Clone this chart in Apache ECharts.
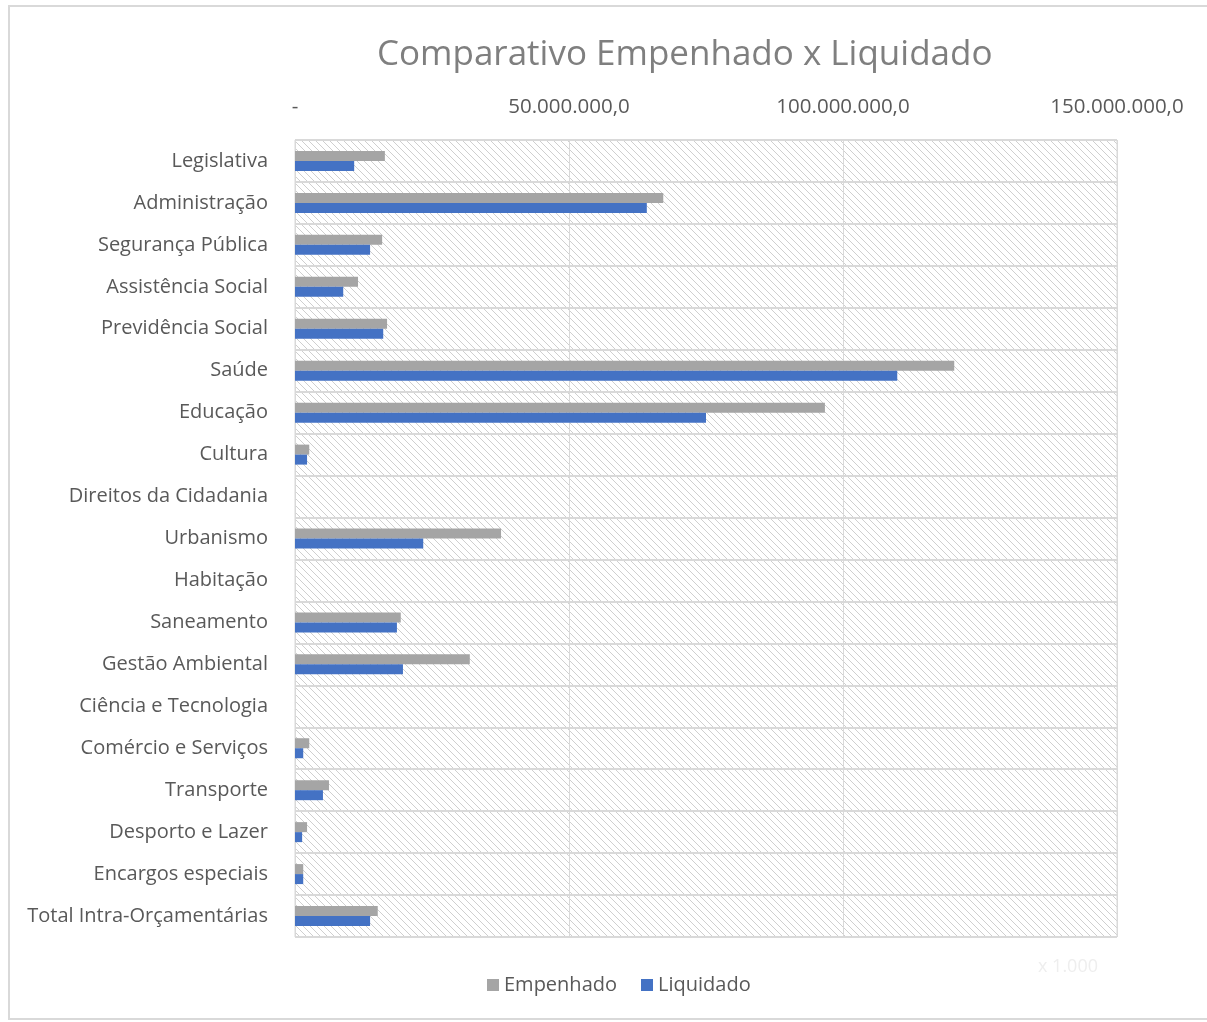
<!DOCTYPE html>
<html>
<head>
<meta charset="utf-8">
<script src="https://cdn.jsdelivr.net/npm/echarts@6/dist/echarts.min.js"></script>
<style>
  html, body { margin: 0; padding: 0; background: #fff; }
  #main { width: 1207px; height: 1022px; }
</style>
</head>
<body>
<div id="main"></div>
<script>
const categorias = [
  'Legislativa', 'Administração', 'Segurança Pública', 'Assistência Social',
  'Previdência Social', 'Saúde', 'Educação', 'Cultura', 'Direitos da Cidadania',
  'Urbanismo', 'Habitação', 'Saneamento', 'Gestão Ambiental', 'Ciência e Tecnologia',
  'Comércio e Serviços', 'Transporte', 'Desporto e Lazer', 'Encargos especiais',
  'Total Intra-Orçamentárias'
];
const empenhado = [
  16400000, 67200000, 15900000, 11500000, 16800000, 120300000, 96700000, 2600000, 0,
  37600000, 0, 19300000, 31900000, 0, 2600000, 6200000, 2200000, 1500000, 15100000
];
const liquidado = [
  10800000, 64200000, 13700000, 8800000, 16100000, 109900000, 75000000, 2200000, 0,
  23400000, 0, 18600000, 19700000, 0, 1500000, 5100000, 1300000, 1500000, 13700000
];
const ticks = [0, 50000000, 100000000, 150000000];

const fonte = "'Open Sans', sans-serif";

// hachura diagonal do fundo
const hatch = document.createElement('canvas');
hatch.width = 7;
hatch.height = 7;
const hc = hatch.getContext('2d');
hc.fillStyle = '#ffffff';
hc.fillRect(0, 0, 7, 7);
hc.strokeStyle = '#cfcfcf';
hc.lineWidth = 1;
hc.beginPath();
hc.moveTo(-1, -1); hc.lineTo(8, 8);
hc.moveTo(-8, -1); hc.lineTo(1, 8);
hc.moveTo(6, -1); hc.lineTo(15, 8);
hc.stroke();

function formata(v) {
  if (v === 0) return '-';
  return Math.round(v).toString().replace(/\B(?=(\d{3})+(?!\d))/g, '.') + ',0';
}

let myChart = echarts.init(document.getElementById('main'));
let option = {
  backgroundColor: '#ffffff',
  animation: false,
  title: {
    text: 'Comparativo Empenhado x Liquidado',
    left: 372,
    top: 33,
    textStyle: { color: '#7f7f7f', fontSize: 35, fontWeight: 'normal', fontFamily: fonte }
  },
  legend: {
    bottom: 22,
    left: 482,
    icon: 'rect',
    itemWidth: 12,
    itemHeight: 12,
    itemGap: 24,
    textStyle: { color: '#595959', fontSize: 20, fontFamily: fonte },
    data: ['Empenhado', 'Liquidado']
  },
  grid: {
    left: 295,
    right: 90,
    top: 140,
    bottom: 85,
    show: true,
    backgroundColor: { image: hatch, repeat: 'repeat' },
    borderColor: '#d9d9d9',
    borderWidth: 1
  },
  xAxis: {
    type: 'value',
    position: 'top',
    min: ticks[0],
    max: ticks[ticks.length - 1],
    interval: ticks[1] - ticks[0],
    axisLine: { show: false },
    axisTick: { show: false },
    splitLine: { lineStyle: { color: '#d9d9d9', width: 1 } },
    axisLabel: {
      color: '#595959', fontSize: 20.5, fontFamily: fonte, margin: 22,
      formatter: formata
    }
  },
  yAxis: {
    type: 'category',
    inverse: true,
    data: categorias,
    axisLine: { show: false },
    axisTick: { show: false },
    splitLine: { show: true, interval: 0, lineStyle: { color: '#d9d9d9', width: 2 } },
    axisLabel: { color: '#595959', fontSize: 20, fontFamily: fonte, margin: 27, interval: 0 }
  },
  graphic: [{
    type: 'rect',
    shape: { x: 9, y: 6, width: 1220, height: 1013 },
    style: { fill: 'none', stroke: '#d9d9d9', lineWidth: 2 },
    silent: true,
    z: 100
  }, {
    type: 'text',
    left: 1038,
    top: 958,
    style: { text: 'x 1.000', fill: '#eeeeee', fontSize: 18, fontFamily: fonte },
    silent: true
  }],
  series: [
    {
      name: 'Empenhado',
      type: 'bar',
      data: empenhado,
      barWidth: 10,
      barGap: '0%',
      itemStyle: { color: '#a5a5a5' }
    },
    {
      name: 'Liquidado',
      type: 'bar',
      data: liquidado,
      barWidth: 10,
      barGap: '0%',
      itemStyle: { color: '#4472c4' }
    }
  ]
};

option && myChart.setOption(option);
</script>
</body>
</html>
